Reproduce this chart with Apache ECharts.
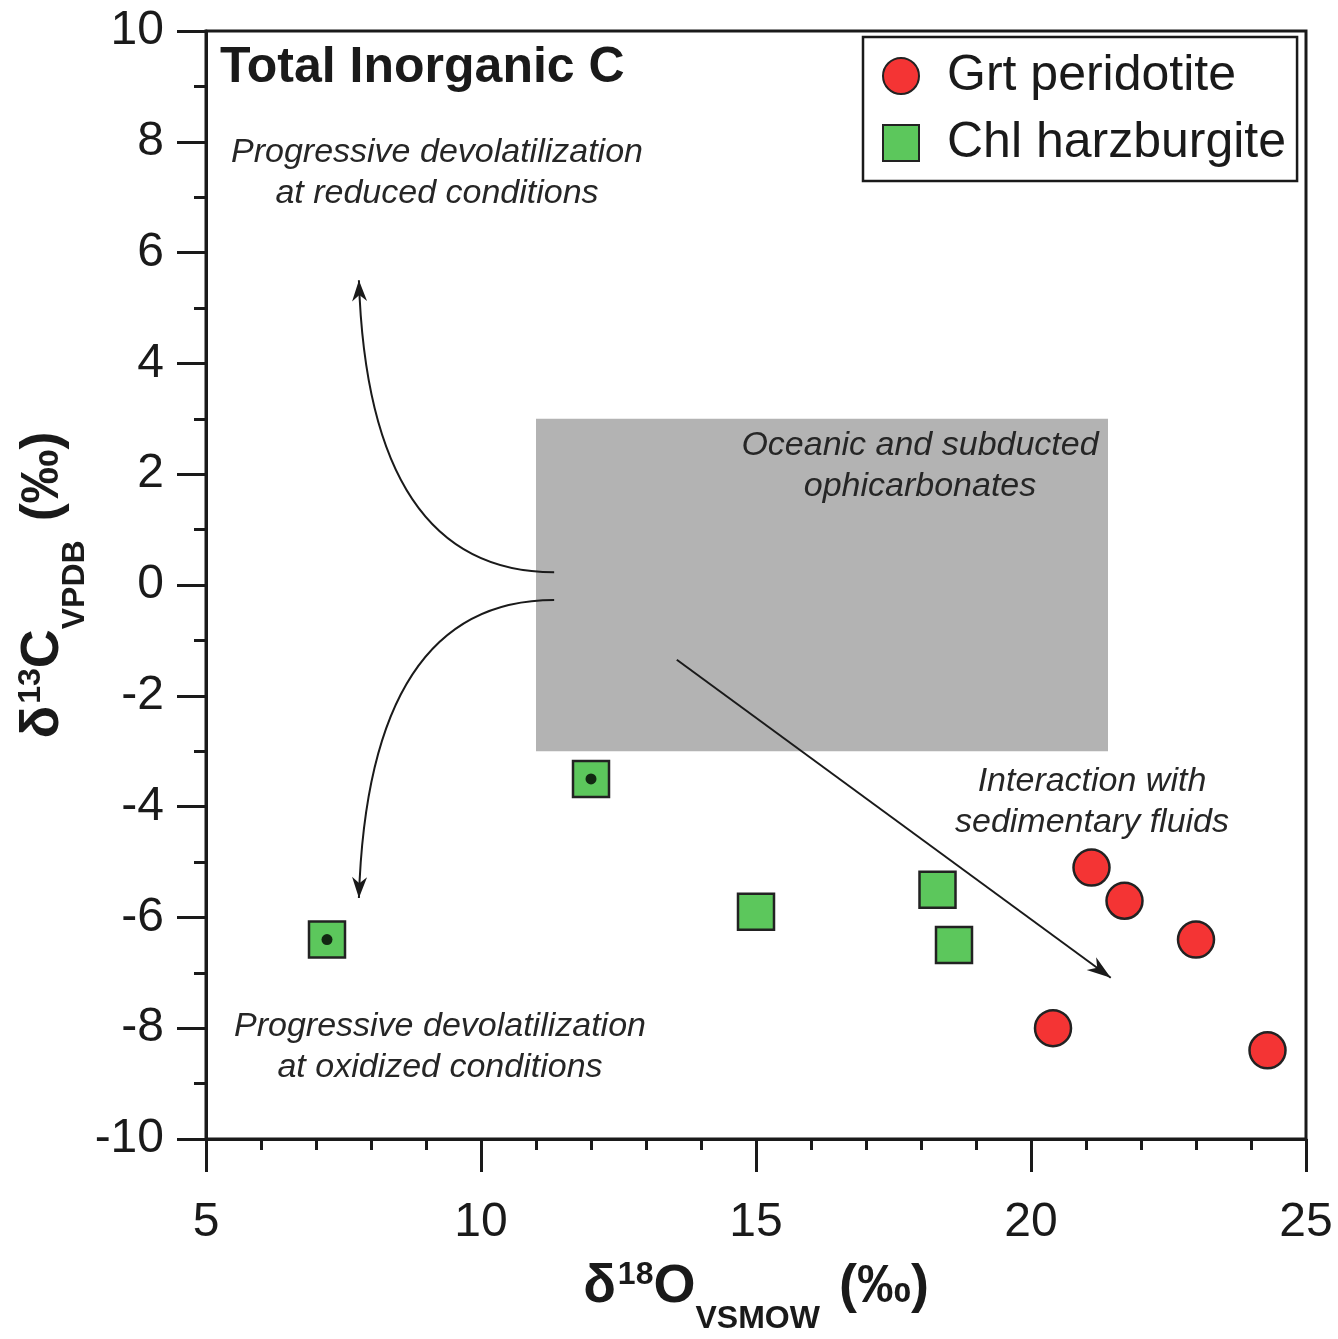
<!DOCTYPE html>
<html>
<head>
<meta charset="utf-8">
<script src="https://cdn.jsdelivr.net/npm/echarts@6/dist/echarts.min.js"></script>
<style>
  html, body { margin: 0; padding: 0; background: #fff; }
  #chart { width: 1338px; height: 1339px; }
</style>
</head>
<body>
<div id="chart"></div>
<script>
// --- data ---
var grtX = [21.1, 21.7, 23.0, 20.4, 24.3];
var grtY = [-5.1, -5.7, -6.4, -8.0, -8.4];

var chlX = [12.0, 7.2, 15.0, 18.3, 18.6];
var chlY = [-3.5, -6.4, -5.9, -5.5, -6.5];
var chlMarked = [true, true, false, false, false];   // squares with a black dot

// grey field: [xmin, xmax, ymin, ymax]
var ophiBox = [11, 21.4, -3, 3];

// arrows, in data units (cubic bezier: start, cp1, cp2, tip)
var reducedArrow = [[11.33, 0.23], [9.02, 0.23], [7.89, 2.08], [7.78, 5.5]];
var oxidizedArrow = [[11.33, -0.27], [9.02, -0.27], [7.89, -2.15], [7.78, -5.65]];
var sedimentArrow = [[13.56, -1.35], [21.45, -7.09]];

var xTicks = { min: 5, max: 25, interval: 5 };
var yTicks = { min: -10, max: 10, interval: 2 };

var FONT = 'Liberation Sans, Arial, sans-serif';
var INK = '#1a1a1a';

var chart = echarts.init(document.getElementById('chart'));

function zip(xs, ys) {
  return xs.map(function (x, i) { return [x, ys[i]]; });
}

var dotPoints = zip(chlX, chlY).filter(function (p, i) { return chlMarked[i]; });

function arrowHead(tip, from, len, half) {
  var dx = tip[0] - from[0], dy = tip[1] - from[1];
  var d = Math.sqrt(dx * dx + dy * dy) || 1;
  var ux = dx / d, uy = dy / d;
  var bx = tip[0] - ux * len, by = tip[1] - uy * len;
  var nx = tip[0] - ux * len * 0.7, ny = tip[1] - uy * len * 0.7;
  return [
    tip,
    [bx - uy * half, by + ux * half],
    [nx, ny],
    [bx + uy * half, by - ux * half]
  ];
}

function renderArrows(params, api) {
  var kids = [];
  [reducedArrow, oxidizedArrow].forEach(function (a) {
    var p = a.map(function (c) { return api.coord(c); });
    kids.push({
      type: 'bezierCurve',
      shape: { x1: p[0][0], y1: p[0][1], cpx1: p[1][0], cpy1: p[1][1],
               cpx2: p[2][0], cpy2: p[2][1], x2: p[3][0], y2: p[3][1] },
      style: { stroke: INK, lineWidth: 2, fill: null }
    });
    kids.push({
      type: 'polygon',
      shape: { points: arrowHead(p[3], p[2], 21, 7.5) },
      style: { fill: INK }
    });
  });
  var s0 = api.coord(sedimentArrow[0]), s1 = api.coord(sedimentArrow[1]);
  kids.push({
    type: 'line',
    shape: { x1: s0[0], y1: s0[1], x2: s1[0], y2: s1[1] },
    style: { stroke: INK, lineWidth: 2 }
  });
  kids.push({
    type: 'polygon',
    shape: { points: arrowHead(s1, s0, 24, 8) },
    style: { fill: INK }
  });
  return { type: 'group', children: kids };
}

function renderBox(params, api) {
  var a = api.coord([ophiBox[0], ophiBox[3]]);
  var b = api.coord([ophiBox[1], ophiBox[2]]);
  return {
    type: 'rect',
    shape: { x: a[0], y: a[1], width: b[0] - a[0], height: b[1] - a[1] },
    style: { fill: '#b3b3b3' }
  };
}

var nameRich = {
  b: { fontSize: 54, fontWeight: 'bold', fontFamily: FONT, color: INK, lineHeight: 56 },
  sup: { fontSize: 32, fontWeight: 'bold', fontFamily: FONT, color: INK, lineHeight: 32, padding: [0, 0, 24, 2] },
  sub: { fontSize: 32, fontWeight: 'bold', fontFamily: FONT, color: INK, lineHeight: 32, padding: [64, 4, 0, 0] }
};

function noteText(lines, x, y, size) {
  return {
    type: 'text',
    x: x, y: y,
    style: {
      text: lines.join('\n'),
      font: 'italic ' + size + 'px ' + FONT,
      fill: '#262626',
      align: 'center',
      verticalAlign: 'middle',
      lineHeight: 41
    },
    z: 10
  };
}

var option = {
  backgroundColor: '#fff',
  animation: false,
  grid: {
    left: 206, top: 31, width: 1100, height: 1108,
    containLabel: false, outerBoundsMode: 'none',
    show: true, borderColor: INK, borderWidth: 3, backgroundColor: 'transparent'
  },
  legend: {
    left: 863, top: 37,
    orient: 'vertical',
    data: ['Grt peridotite', 'Chl harzburgite'],
    padding: [14, 11, 13, 19],
    borderColor: INK, borderWidth: 2.5,
    backgroundColor: '#fff',
    itemWidth: 36, itemHeight: 36, itemGap: 17,
    textStyle: { fontSize: 50, fontFamily: FONT, color: INK, lineHeight: 36, padding: [0, 0, 0, 23] },
    z: 20
  },
  xAxis: {
    type: 'value',
    min: xTicks.min, max: xTicks.max, interval: xTicks.interval,
    name: '{b|δ}{sup|18}{b|O}{sub|VSMOW}{b| (‰)}',
    nameLocation: 'middle', nameGap: 120, nameMoveOverlap: false,
    nameTextStyle: { rich: nameRich },
    axisLine: { onZero: false, lineStyle: { color: INK, width: 3 } },
    axisTick: { show: true, inside: false, length: 33, lineStyle: { color: INK, width: 3 } },
    minorTick: { show: true, splitNumber: 5, length: 11, lineStyle: { color: INK, width: 3 } },
    axisLabel: { fontSize: 48, fontFamily: FONT, color: INK, margin: 60 },
    splitLine: { show: false }
  },
  yAxis: {
    type: 'value',
    min: yTicks.min, max: yTicks.max, interval: yTicks.interval,
    name: '{b|δ}{sup|13}{b|C}{sub|VPDB}{b| (‰)}',
    nameLocation: 'middle', nameGap: 135, nameRotate: 90, nameMoveOverlap: false,
    nameTextStyle: { rich: nameRich },
    axisLine: { onZero: false, lineStyle: { color: INK, width: 3 } },
    axisTick: { show: true, inside: false, length: 29, lineStyle: { color: INK, width: 3 } },
    minorTick: { show: true, splitNumber: 2, length: 12, lineStyle: { color: INK, width: 3 } },
    axisLabel: { fontSize: 48, fontFamily: FONT, color: INK, margin: 42 },
    splitLine: { show: false }
  },
  graphic: [
    {
      type: 'text', left: 220, top: 43,
      style: { text: 'Total Inorganic C', font: 'bold 50px ' + FONT, fill: INK },
      z: 10
    },
    noteText(['Progressive devolatilization', 'at reduced conditions'], 437, 173, 34),
    noteText(['Oceanic and subducted', 'ophicarbonates'], 920, 466, 34),
    noteText(['Interaction with', 'sedimentary fluids'], 1092, 802, 34),
    noteText(['Progressive devolatilization', 'at oxidized conditions'], 440, 1047, 34)
  ],
  series: [
    {
      type: 'custom', name: 'box', renderItem: renderBox,
      data: [[ophiBox[0], ophiBox[2]]], z: 1, silent: true
    },
    {
      type: 'custom', name: 'arrows', renderItem: renderArrows,
      data: [[0, 0]], z: 3, silent: true
    },
    {
      name: 'Grt peridotite', type: 'scatter',
      data: zip(grtX, grtY),
      symbol: 'circle', symbolSize: 36,
      itemStyle: { color: '#f43434', borderColor: '#222', borderWidth: 2.5, opacity: 1 },
      z: 5
    },
    {
      name: 'Chl harzburgite', type: 'scatter',
      data: zip(chlX, chlY),
      symbol: 'rect', symbolSize: 36,
      itemStyle: { color: '#5cc75c', borderColor: '#222', borderWidth: 2.5, opacity: 1 },
      z: 5
    },
    {
      name: 'dot', type: 'scatter',
      data: dotPoints,
      symbol: 'circle', symbolSize: 11,
      itemStyle: { color: '#000' },
      z: 6
    }
  ]
};

chart.setOption(option);
</script>
</body>
</html>
